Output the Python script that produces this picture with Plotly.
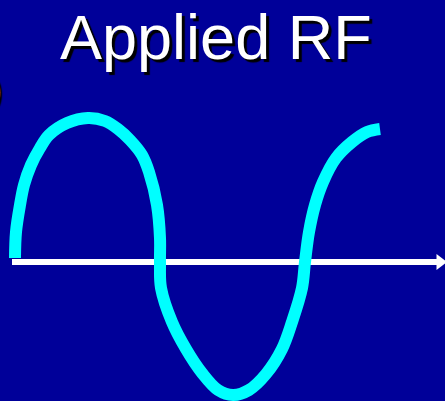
import plotly.graph_objects as go

# Applied RF waveform: sampled points along one and a quarter cycles
# (time along the axis, signal amplitude above / below the axis)
time = [3, 4, 8, 12, 19, 28, 37, 55, 76, 93, 106, 118, 130, 137, 145, 148,
        148, 149, 160, 174, 190, 206, 221, 237, 254, 270, 280, 290, 293,
        297, 303, 311, 324, 340, 355, 368]
signal = [4, 30, 57, 77, 97, 114, 127, 139, 144, 141, 133, 122, 107, 90, 57,
          24, 0, -26, -60, -87, -111, -128, -133, -128, -112, -87, -60, -26, 0,
          30, 57, 80, 104, 120, 130, 133]

# horizontal time axis drawn as an arrow
axis_t = [0, 428]
axis_v = [0, 0]

title_text = "Applied RF"
side_text = ")"

BG = "#000099"

fig = go.Figure()

fig.add_trace(go.Scatter(
    x=axis_t, y=axis_v, mode="lines",
    line=dict(color="white", width=6),
    hoverinfo="skip", showlegend=False,
))
fig.add_trace(go.Scatter(
    x=[axis_t[-1]], y=[axis_v[-1]], mode="markers",
    marker=dict(symbol="triangle-right", size=14, color="white", line=dict(width=0)),
    hoverinfo="skip", showlegend=False,
))
fig.add_trace(go.Scatter(
    x=time, y=signal, mode="lines",
    line=dict(color="#00FFFF", width=12, shape="spline", smoothing=1.0),
    hoverinfo="skip", showlegend=False,
))

fig.add_annotation(
    text=title_text, xref="paper", yref="paper", x=0.486, y=1.0,
    xanchor="center", yanchor="top", showarrow=False,
    font=dict(family="Liberation Sans, Arial, sans-serif", size=63, color="white",
              shadow="3px 3px 1px black"),
)
fig.add_annotation(
    text=side_text, xref="paper", yref="paper", x=0.012, y=0.78,
    xanchor="right", yanchor="middle", showarrow=False,
    font=dict(family="Liberation Sans, Arial, sans-serif", size=44, color="white",
              shadow="2px 2px 1px black"),
)

fig.update_xaxes(range=[-12, 433], visible=False, fixedrange=True)
fig.update_yaxes(range=[-139, 262], visible=False, fixedrange=True)

fig.update_layout(
    width=445, height=401,
    margin=dict(l=0, r=0, t=0, b=0),
    paper_bgcolor=BG, plot_bgcolor=BG,
    showlegend=False,
)

fig.write_html("out.html")
